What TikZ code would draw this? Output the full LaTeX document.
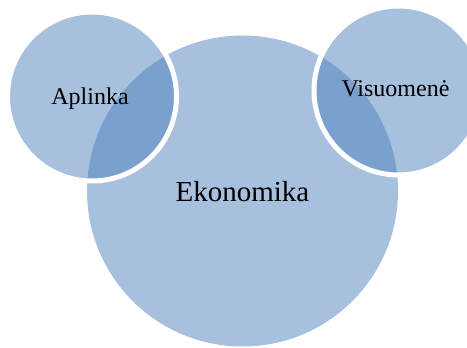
\documentclass[tikz,border=0pt]{standalone}
\usepackage{fontspec}
\setmainfont{Liberation Serif}
\usepackage{tikz}
\definecolor{vennblue}{HTML}{4F81BD}
\newcommand{\vcol}{vennblue}
\tikzset{
  venn/.style={circle, inner sep=0pt, fill=\vcol, fill opacity=0.5},
  vennlabel/.style={anchor=base, inner sep=0pt, text=black}
}

\begin{document}
\begin{tikzpicture}[x=1pt, y=1pt]

    \useasboundingbox (0, 0) rectangle (467, 348);

    \node[venn, minimum size=311pt] (eko) at (242.5, 157) {};
    \node[venn, minimum size=169pt, draw=white, line width=5pt] (apl) at (92, 251.5) {};
    \node[venn, minimum size=169pt, draw=white, line width=5pt] (vis) at (398.5, 257.5) {};

    \node[vennlabel, font=\fontsize{24}{28}\selectfont] (tapl) at (90, 243) {Aplinka};
    \node[vennlabel, font=\fontsize{24}{28}\selectfont] (tvis) at (395.5, 251) {Visuomenė};
    \node[vennlabel, font=\fontsize{29}{34}\selectfont] (teko) at (242.5, 146) {Ekonomika};

  \end{tikzpicture}
\end{document}
